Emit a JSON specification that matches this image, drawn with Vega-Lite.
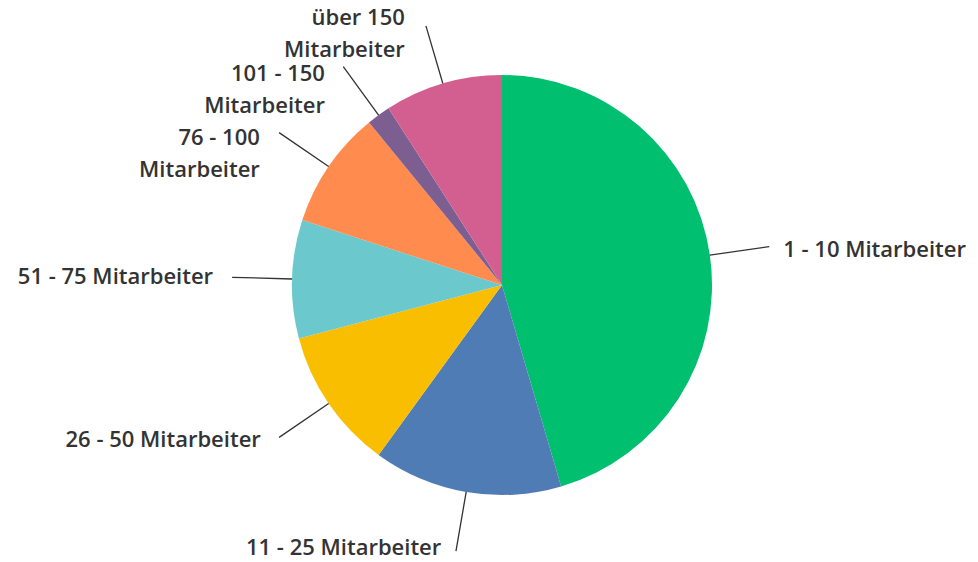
{
  "$schema": "https://vega.github.io/schema/vega-lite/v6.json",
  "width": 952,
  "height": 554,
  "autosize": {"type": "none"},
  "padding": {"left": 26, "top": 8, "right": 0, "bottom": 0},
  "background": "white",
  "config": {
    "view": {"stroke": null},
    "text": {"font": "Open Sans", "fontSize": 22, "fontWeight": 600, "color": "#333333", "lineHeight": 32, "lineBreak": "\n", "baseline": "middle", "radius": 274}
  },
  "data": {
    "values": [
      {"label": "1 - 10 Mitarbeiter", "count": 25, "order": 1},
      {"label": "11 - 25 Mitarbeiter", "count": 8, "order": 2},
      {"label": "26 - 50 Mitarbeiter", "count": 6, "order": 3},
      {"label": "51 - 75 Mitarbeiter", "count": 5, "order": 4},
      {"label": "76 - 100\nMitarbeiter", "count": 5, "order": 5},
      {"label": "101 - 150\nMitarbeiter", "count": 1, "order": 6},
      {"label": "über 150\nMitarbeiter", "count": 5, "order": 7}
    ]
  },
  "encoding": {
    "theta": {"field": "count", "type": "quantitative", "stack": true},
    "order": {"field": "order", "type": "quantitative", "sort": "ascending"}
  },
  "layer": [
    {
      "mark": {"type": "arc", "radius": 210},
      "encoding": {
        "color": {
          "field": "label",
          "type": "nominal",
          "legend": null,
          "scale": {
            "domain": ["1 - 10 Mitarbeiter", "11 - 25 Mitarbeiter", "26 - 50 Mitarbeiter", "51 - 75 Mitarbeiter", "76 - 100\nMitarbeiter", "101 - 150\nMitarbeiter", "über 150\nMitarbeiter"],
            "range": ["#00BF6F", "#507CB6", "#F9BE00", "#6BC8CD", "#FF8B4F", "#7D5E90", "#D25F90"]
          }
        }
      }
    },
    {
      "mark": {"type": "arc", "radius": 270, "radius2": 210, "padAngle": 3.1416, "fillOpacity": 0, "stroke": "#333333", "strokeWidth": 1.3}
    },
    {
      "mark": {"type": "text", "align": "left", "dx": 10, "dy": 4},
      "encoding": {"text": {"condition": {"test": "datum.order == 1", "field": "label"}, "value": ""}}
    },
    {
      "mark": {"type": "text", "align": "right", "dx": -14, "dy": -7},
      "encoding": {"text": {"condition": {"test": "datum.order == 2", "field": "label"}, "value": ""}}
    },
    {
      "mark": {"type": "text", "align": "right", "dx": -15, "dy": 0},
      "encoding": {"text": {"condition": {"test": "datum.order == 3 || datum.order == 4", "field": "label"}, "value": ""}}
    },
    {
      "mark": {"type": "text", "align": "right", "dx": -16, "dy": 8},
      "encoding": {"text": {"condition": {"test": "datum.order == 5", "field": "label"}, "value": ""}}
    },
    {
      "mark": {"type": "text", "align": "right", "dx": -16, "dy": 11},
      "encoding": {"text": {"condition": {"test": "datum.order == 6", "field": "label"}, "value": ""}}
    },
    {
      "mark": {"type": "text", "align": "right", "dx": -20, "dy": -4},
      "encoding": {"text": {"condition": {"test": "datum.order == 7", "field": "label"}, "value": ""}}
    }
  ]
}
